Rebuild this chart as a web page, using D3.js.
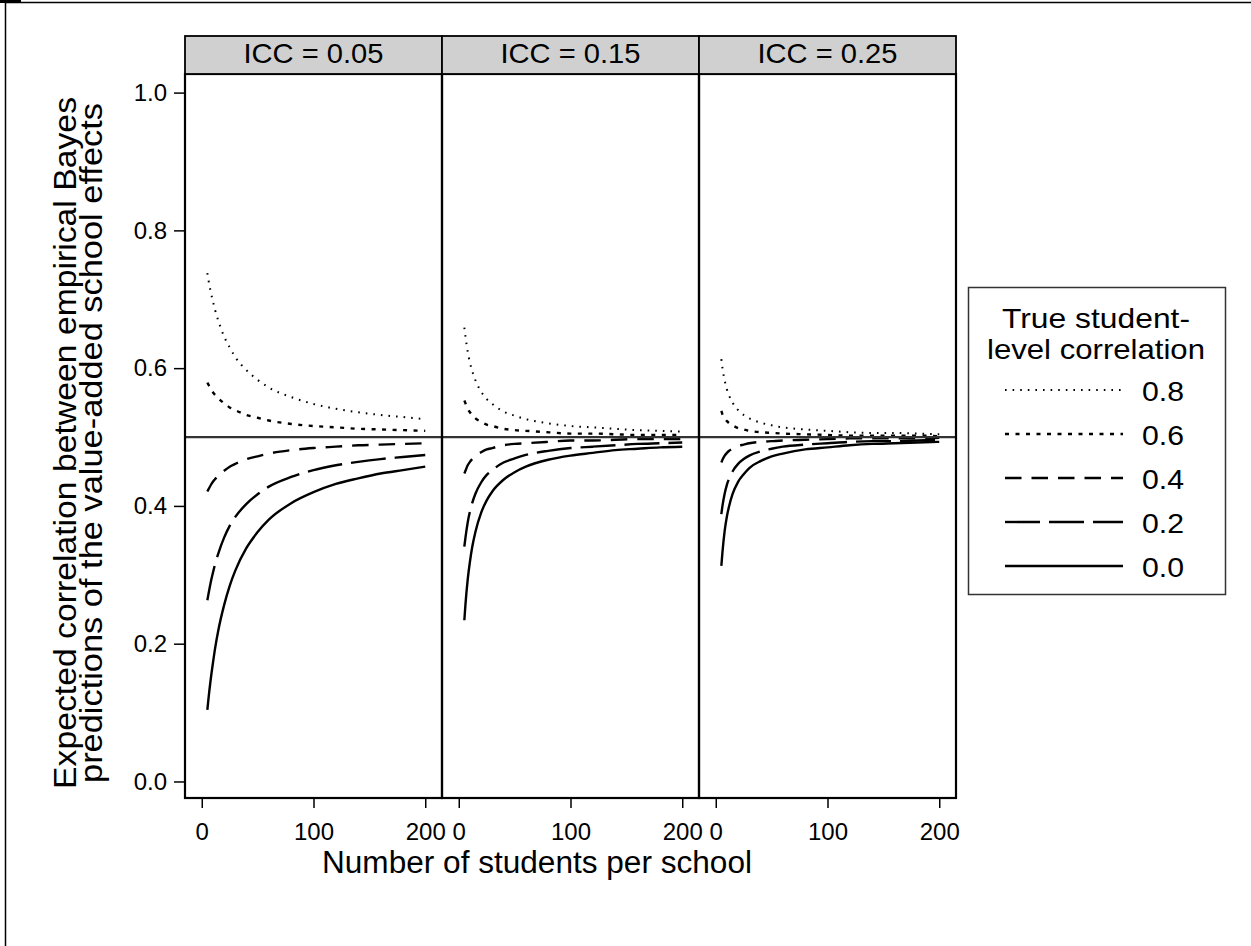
<!DOCTYPE html>
<html>
<head>
<meta charset="utf-8">
<script src="https://cdn.jsdelivr.net/npm/d3@7"></script>
<style>
  html, body { margin: 0; padding: 0; background: #fff; }
  svg { display: block; font-family: "Liberation Sans", Arial, sans-serif; }
</style>
</head>
<body>
<svg id="chart" width="1251" height="946"></svg>
<script>
// ---------------- DATA ----------------
const nStudents = [5, 6, 8, 10, 12, 15, 20, 25, 30, 40, 50, 60, 80, 100, 120, 140, 160, 180, 200];
const panelLabels = ["ICC = 0.05", "ICC = 0.15", "ICC = 0.25"];
const corrLevels = ["0.8", "0.6", "0.4", "0.2", "0.0"];
const xTickValues = [0, 100, 200];
const yTickValues = [0.0, 0.2, 0.4, 0.6, 0.8, 1.0];
const referenceValue = 0.5;

// ICC = 0.05
const icc05_r80 = [0.738,0.728,0.711,0.697,0.684,0.668,0.646,0.630,0.616,0.597,0.583,0.572,0.558,0.548,0.541,0.536,0.532,0.529,0.526];
const icc05_r60 = [0.579,0.576,0.570,0.565,0.561,0.556,0.549,0.543,0.539,0.532,0.528,0.524,0.519,0.516,0.514,0.512,0.511,0.510,0.509];
const icc05_r40 = [0.421,0.424,0.430,0.435,0.439,0.444,0.451,0.457,0.461,0.468,0.472,0.476,0.481,0.484,0.486,0.488,0.489,0.490,0.491];
const icc05_r20 = [0.263,0.272,0.289,0.303,0.316,0.332,0.354,0.371,0.384,0.403,0.417,0.428,0.442,0.452,0.459,0.464,0.468,0.471,0.474];
const icc05_r00 = [0.104,0.120,0.148,0.172,0.194,0.221,0.256,0.284,0.306,0.339,0.362,0.380,0.404,0.420,0.432,0.440,0.447,0.452,0.457];
// ICC = 0.15
const icc15_r80 = [0.659,0.646,0.624,0.608,0.596,0.582,0.566,0.555,0.548,0.537,0.531,0.526,0.520,0.516,0.514,0.512,0.510,0.509,0.508];
const icc15_r60 = [0.553,0.549,0.541,0.536,0.532,0.527,0.522,0.518,0.516,0.512,0.510,0.509,0.507,0.505,0.505,0.504,0.503,0.503,0.503];
const icc15_r40 = [0.447,0.451,0.459,0.464,0.468,0.473,0.478,0.482,0.484,0.488,0.490,0.491,0.493,0.495,0.495,0.496,0.497,0.497,0.497];
const icc15_r20 = [0.341,0.354,0.376,0.392,0.404,0.418,0.434,0.445,0.452,0.463,0.469,0.474,0.480,0.484,0.486,0.488,0.490,0.491,0.492];
const icc15_r00 = [0.234,0.257,0.293,0.319,0.340,0.363,0.390,0.408,0.421,0.438,0.449,0.457,0.467,0.473,0.477,0.481,0.483,0.485,0.486];
// ICC = 0.25
const icc25_r80 = [0.613,0.600,0.582,0.569,0.560,0.550,0.539,0.532,0.527,0.521,0.517,0.514,0.511,0.509,0.507,0.506,0.506,0.505,0.504];
const icc25_r60 = [0.538,0.533,0.527,0.523,0.520,0.517,0.513,0.511,0.509,0.507,0.506,0.505,0.504,0.503,0.502,0.502,0.502,0.502,0.501];
const icc25_r40 = [0.463,0.467,0.473,0.477,0.480,0.483,0.487,0.489,0.491,0.493,0.494,0.495,0.496,0.497,0.498,0.498,0.498,0.498,0.499];
const icc25_r20 = [0.388,0.400,0.418,0.431,0.440,0.450,0.461,0.468,0.473,0.479,0.483,0.486,0.489,0.491,0.493,0.494,0.494,0.495,0.496];
const icc25_r00 = [0.313,0.333,0.364,0.385,0.400,0.417,0.435,0.446,0.455,0.465,0.472,0.476,0.482,0.485,0.488,0.490,0.491,0.492,0.493];

const panelSeries = [
  [icc05_r80, icc05_r60, icc05_r40, icc05_r20, icc05_r00],
  [icc15_r80, icc15_r60, icc15_r40, icc15_r20, icc15_r00],
  [icc25_r80, icc25_r60, icc25_r40, icc25_r20, icc25_r00]
];

// ---------------- STYLE ----------------
const dashFor = { "0.8": "1.6,6", "0.6": "4,6.5", "0.4": "16.5,10", "0.2": "35,9", "0.0": null };
const widthFor = { "0.8": 2, "0.6": 2.4, "0.4": 2.4, "0.2": 2.4, "0.0": 2.4 };

const svg = d3.select("#chart");
const FONT = '"Liberation Sans", Arial, sans-serif';

// outer frame (top / left edges of the original figure)
svg.append("line").attr("x1", 5.5).attr("y1", 2.5).attr("x2", 1251).attr("y2", 2.5)
  .attr("stroke", "#000").attr("stroke-width", 1.5);
svg.append("line").attr("x1", 5.5).attr("y1", 2.5).attr("x2", 5.5).attr("y2", 946)
  .attr("stroke", "#000").attr("stroke-width", 1.5);
svg.append("line").attr("x1", 0).attr("y1", 1.5).attr("x2", 21).attr("y2", 1.5)
  .attr("stroke", "#000").attr("stroke-width", 3);

const plotLeft = 185, panelW = 257, plotTop = 74, plotBottom = 798, stripTop = 36;

const y = d3.scaleLinear().domain([-0.024, 1.027]).range([plotBottom, plotTop]);
const xScales = panelLabels.map((_, i) =>
  d3.scaleLinear().domain([-15, 215]).range([plotLeft + i * panelW, plotLeft + (i + 1) * panelW]));

const defs = svg.append("defs");

panelLabels.forEach((lab, i) => {
  const x = xScales[i];
  const x0 = plotLeft + i * panelW;
  defs.append("clipPath").attr("id", "clip" + i)
    .append("rect").attr("x", x0).attr("y", plotTop).attr("width", panelW).attr("height", plotBottom - plotTop);

  const g = svg.append("g").attr("clip-path", `url(#clip${i})`);
  const line = d3.line().x((d, j) => x(nStudents[j])).y(d => y(d)).curve(d3.curveMonotoneX);
  panelSeries[i].forEach((vals, k) => {
    const c = corrLevels[k];
    const p = g.append("path").attr("d", line(vals))
      .attr("fill", "none").attr("stroke", "#000")
      .attr("stroke-width", widthFor[c]);
    if (dashFor[c]) p.attr("stroke-dasharray", dashFor[c]);
  });

  // bottom axis
  const ax = svg.append("g").attr("transform", `translate(0,${plotBottom})`)
    .call(d3.axisBottom(x).tickValues(xTickValues).tickFormat(d3.format("d")).tickSize(10).tickPadding(15));
  ax.select(".domain").remove();
  ax.selectAll(".tick line").attr("stroke", "#000").attr("stroke-width", 1.5);
  ax.selectAll(".tick text").attr("font-family", FONT).attr("font-size", 24).attr("fill", "#000");
});

// reference line at 0.5 across all panels
svg.append("line")
  .attr("x1", plotLeft).attr("x2", plotLeft + 3 * panelW)
  .attr("y1", y(referenceValue)).attr("y2", y(referenceValue))
  .attr("stroke", "#333").attr("stroke-width", 2.2);

// panel borders and strips
panelLabels.forEach((lab, i) => {
  const x0 = plotLeft + i * panelW;
  svg.append("rect").attr("x", x0).attr("y", plotTop).attr("width", panelW).attr("height", plotBottom - plotTop)
    .attr("fill", "none").attr("stroke", "#000").attr("stroke-width", 2.2);
  svg.append("rect").attr("x", x0).attr("y", stripTop).attr("width", panelW).attr("height", plotTop - stripTop)
    .attr("fill", "#d0d0d0").attr("stroke", "#000").attr("stroke-width", 1.8);
  svg.append("text").attr("x", x0 + panelW / 2).attr("y", 63)
    .attr("text-anchor", "middle").attr("font-family", FONT).attr("font-size", 28)
    .attr("textLength", 140).attr("lengthAdjust", "spacingAndGlyphs")
    .text(lab);
});

// left axis
const ay = svg.append("g").attr("transform", `translate(${plotLeft},0)`)
  .call(d3.axisLeft(y).tickValues(yTickValues).tickFormat(d3.format(".1f")).tickSize(11).tickPadding(7));
ay.select(".domain").remove();
ay.selectAll(".tick line").attr("stroke", "#000").attr("stroke-width", 1.5);
ay.selectAll(".tick text").attr("font-family", FONT).attr("font-size", 24).attr("fill", "#000");

// axis titles
svg.append("text").attr("x", 537).attr("y", 873)
  .attr("text-anchor", "middle").attr("font-family", FONT).attr("font-size", 31)
  .attr("textLength", 430).attr("lengthAdjust", "spacingAndGlyphs")
  .text("Number of students per school");

svg.append("text").attr("transform", "translate(76,443) rotate(-90)")
  .attr("text-anchor", "middle").attr("font-family", FONT).attr("font-size", 31)
  .attr("textLength", 692).attr("lengthAdjust", "spacingAndGlyphs")
  .text("Expected correlation between empirical Bayes");
svg.append("text").attr("transform", "translate(102,443) rotate(-90)")
  .attr("text-anchor", "middle").attr("font-family", FONT).attr("font-size", 31)
  .attr("textLength", 680).attr("lengthAdjust", "spacingAndGlyphs")
  .text("predictions of the value-added school effects");

// legend
const lg = svg.append("g");
lg.append("rect").attr("x", 968.5).attr("y", 287.5).attr("width", 257).attr("height", 307)
  .attr("fill", "#fff").attr("stroke", "#333").attr("stroke-width", 1.5);
lg.append("text").attr("x", 1096).attr("y", 328).attr("text-anchor", "middle")
  .attr("font-family", FONT).attr("font-size", 28)
  .attr("textLength", 188).attr("lengthAdjust", "spacingAndGlyphs").text("True student-");
lg.append("text").attr("x", 1096).attr("y", 359).attr("text-anchor", "middle")
  .attr("font-family", FONT).attr("font-size", 28)
  .attr("textLength", 218).attr("lengthAdjust", "spacingAndGlyphs").text("level correlation");

const legendY = d3.scalePoint().domain(corrLevels).range([390, 566]);
corrLevels.forEach(c => {
  const yy = legendY(c);
  const l = lg.append("line").attr("x1", 1005).attr("x2", 1123).attr("y1", yy).attr("y2", yy)
    .attr("stroke", "#000").attr("stroke-width", widthFor[c]);
  if (dashFor[c]) l.attr("stroke-dasharray", dashFor[c]);
  lg.append("text").attr("x", 1142).attr("y", yy + 11)
    .attr("font-family", FONT).attr("font-size", 28)
    .attr("textLength", 42).attr("lengthAdjust", "spacingAndGlyphs").text(c);
});
</script>
</body>
</html>
